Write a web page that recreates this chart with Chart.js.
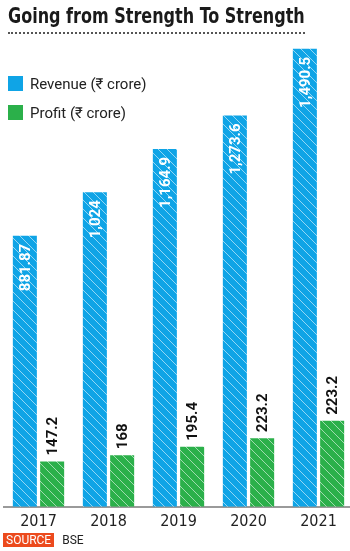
<!DOCTYPE html>
<html lang="en">
<head>
    <meta charset="UTF-8">
    <title>Going from Strength To Strength</title>
    <script src="https://cdn.jsdelivr.net/npm/chart.js"></script>
    <style>
        body {
            margin: 0;
            background: #fff;
            font-family: Roboto, "Noto Sans", sans-serif;
        }
        .page {
            position: relative;
            width: 350px;
            height: 551px;
            overflow: hidden;
        }
        .title {
            position: absolute;
            left: 8px;
            top: 3px;
            font-family: "DejaVu Sans Condensed", "DejaVu Sans", sans-serif;
            font-weight: bold;
            font-size: 22px;
            color: #1a1a1a;
            white-space: nowrap;
            transform-origin: 0 0;
        }
        .dots {
            position: absolute;
            left: 8px;
            top: 32px;
            width: 297px;
            border-top: 2px dotted #555;
        }
        .legend {
            position: absolute;
            left: 8px;
            font-size: 15px;
            color: #222;
        }
        .legend span {
            display: inline-block;
            width: 15px;
            height: 15px;
            vertical-align: -2px;
            margin-right: 7px;
        }
        .source {
            position: absolute;
            left: 3px;
            top: 533px;
            font-size: 12px;
            color: #222;
        }
        .source b {
            background: #ec4a1d;
            color: #fff;
            font-weight: normal;
            padding: 0 3px;
            margin-right: 8px;
        }
        .chartBox {
            position: absolute;
            left: 0;
            top: 0;
            width: 360px;
            height: 551px;
        }
    </style>
</head>
<body>
<div class="page">
    <div class="chartBox"><canvas id="chart"></canvas></div>
    <div class="title" id="title">Going from Strength To Strength</div>
    <div class="dots"></div>
    <div class="legend" style="top:75px"><span style="background:#0fa4e6"></span>Revenue (₹ crore)</div>
    <div class="legend" style="top:104px"><span style="background:#2bb04a"></span>Profit (₹ crore)</div>
    <div class="source"><b>SOURCE</b>BSE</div>
</div>

<script>
    const years = ['2017', '2018', '2019', '2020', '2021'];
    const revenue = [881.87, 1024, 1164.9, 1273.6, 1490.5];
    const profit = [147.2, 168, 195.4, 223.2, 280];
    const profitLabels = ['147.2', '168', '195.4', '223.2', '223.2'];

    // squeeze the title to the width of the dotted rule
    const title = document.getElementById('title');
    title.style.transform = 'scaleX(' + (297 / title.offsetWidth) + ')';

    // diagonal white stripes over the bar colour
    function hatch(color) {
        const s = 9;
        const c = document.createElement('canvas');
        c.width = s; c.height = s;
        const g = c.getContext('2d');
        g.fillStyle = color;
        g.fillRect(0, 0, s, s);
        g.strokeStyle = 'rgba(255,255,255,0.55)';
        g.lineWidth = 1;
        g.beginPath();
        g.moveTo(-1, -1); g.lineTo(s + 1, s + 1);
        g.moveTo(-1, s - 1); g.lineTo(1, s + 1);
        g.moveTo(s - 1, -1); g.lineTo(s + 1, 1);
        g.stroke();
        return g.createPattern(c, 'repeat');
    }

    const barLabels = {
        id: 'barLabels',
        afterDatasetsDraw(chart) {
            const ctx = chart.ctx;
            ctx.save();
            ctx.font = 'bold 15px Roboto, sans-serif';
            ctx.textBaseline = 'middle';
            chart.getDatasetMeta(0).data.forEach((bar, i) => {
                ctx.save();
                ctx.translate(bar.x, bar.y + 8);
                ctx.rotate(-Math.PI / 2);
                ctx.textAlign = 'right';
                ctx.fillStyle = '#fff';
                ctx.fillText(revenue[i].toLocaleString('en-US'), 0, 1);
                ctx.restore();
            });
            chart.getDatasetMeta(1).data.forEach((bar, i) => {
                ctx.save();
                ctx.translate(bar.x, bar.y - 6);
                ctx.rotate(-Math.PI / 2);
                ctx.textAlign = 'left';
                ctx.fillStyle = '#111';
                ctx.fillText(profitLabels[i], 0, 1);
                ctx.restore();
            });
            ctx.restore();
        }
    };

    const ctx = document.getElementById('chart').getContext('2d');
    new Chart(ctx, {
        type: 'bar',
        data: {
            labels: years,
            datasets: [{
                label: 'Revenue (₹ crore)',
                data: revenue,
                backgroundColor: hatch('#0fa4e6'),
                categoryPercentage: 0.78,
                barPercentage: 0.88
            }, {
                label: 'Profit (₹ crore)',
                data: profit,
                backgroundColor: hatch('#2bb04a'),
                categoryPercentage: 0.78,
                barPercentage: 0.88
            }]
        },
        options: {
            responsive: true,
            maintainAspectRatio: false,
            animation: false,
            layout: { padding: { top: 45, left: 3.5, right: 6.5, bottom: 15 } },
            plugins: {
                legend: { display: false },
                tooltip: { enabled: false }
            },
            scales: {
                x: {
                    grid: { display: false, drawTicks: false },
                    border: { display: true, color: '#9a9a9a', width: 2 },
                    ticks: {
                        color: '#222',
                        padding: 5,
                        font: { family: '"Liberation Sans Narrow", "DejaVu Sans Condensed", sans-serif', size: 16 }
                    }
                },
                y: {
                    display: false,
                    min: 0,
                    max: 1503
                }
            }
        },
        plugins: [barLabels]
    });
</script>
</body>
</html>
